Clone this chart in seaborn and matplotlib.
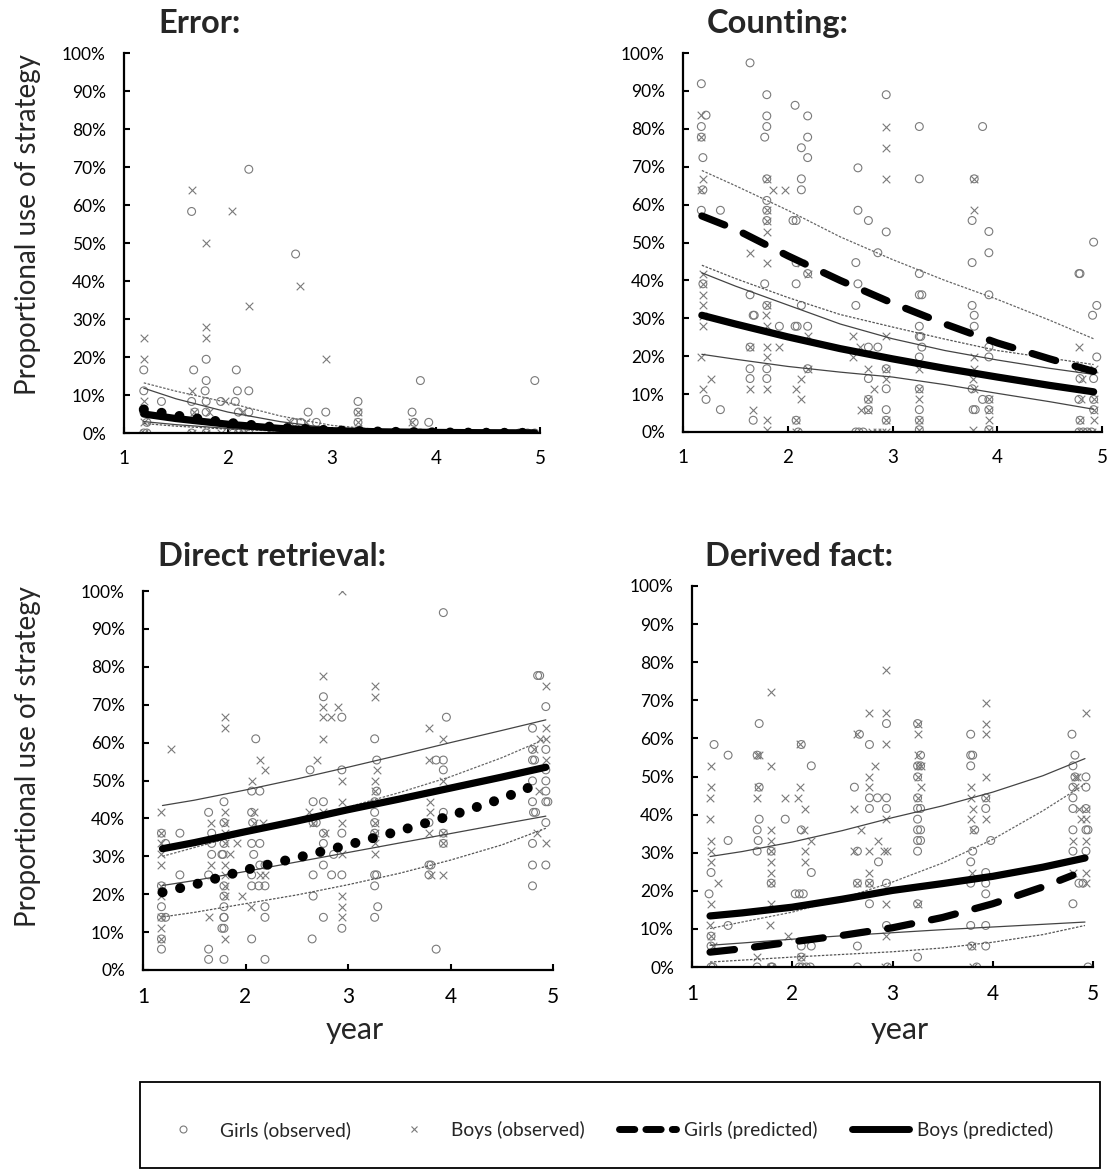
import numpy as np
import pandas as pd
import matplotlib
matplotlib.use("Agg")
import matplotlib.pyplot as plt
from matplotlib.lines import Line2D
from matplotlib.patches import Rectangle
import seaborn as sns

# ---------------- data (percent) ----------------
# Error
err_g_yr = [2.20, 1.65, 2.65, 1.79, 1.19, 1.67, 2.08, 1.79, 3.85, 4.95, 1.19, 1.78, 2.09, 2.20,
            1.36, 1.65, 1.79, 1.93, 2.07, 3.25, 1.19, 1.68, 1.79, 2.10, 2.20, 2.77, 2.94, 3.25, 3.77,
            1.22, 2.63, 2.70, 2.85, 3.25, 3.79, 3.93,
            1.19, 1.22, 1.65, 1.79, 2.05, 2.10, 2.20, 2.65, 2.75, 2.90, 3.25, 3.77, 3.85, 3.93, 4.80, 4.88, 4.95]
err_g_pct = [69.4, 58.3, 47.1, 19.4, 16.6, 16.6, 16.6, 13.8, 13.8, 13.8, 11.1, 11.1, 11.1, 11.1,
             8.3, 8.3, 8.3, 8.3, 8.3, 8.3, 5.5, 5.5, 5.5, 5.5, 5.5, 5.5, 5.5, 5.5, 5.5,
             2.8, 2.8, 2.8, 2.8, 2.8, 2.8, 2.8,
             0, 0, 0, 0, 0, 0, 0, 0, 0, 0, 0, 0, 0, 0, 0, 0, 0]
err_b_yr = [1.65, 2.04, 1.79, 2.69, 2.20, 1.79, 1.79, 1.19, 1.19, 2.94, 1.65, 1.19, 1.97,
            1.67, 1.82, 2.13, 3.25, 1.19, 2.60, 2.75, 3.25, 3.77,
            1.19, 1.65, 1.79, 1.93, 2.10, 2.15, 2.62, 2.70, 2.85, 3.25, 3.80, 3.90, 4.82, 4.90]
err_b_pct = [63.9, 58.3, 49.9, 38.8, 33.5, 27.8, 25.0, 25.0, 19.4, 19.4, 11.1, 8.3, 8.3,
             5.5, 5.5, 5.5, 5.5, 2.8, 2.8, 2.8, 2.8, 2.8,
             0, 0, 0, 0, 0, 0, 0, 0, 0, 0, 0, 0, 0, 0]
err_grid = [1.19, 1.5, 2.0, 2.5, 3.0, 3.5, 4.0, 4.5, 4.95]
err_g_pred = [6.2, 4.6, 2.7, 1.4, 0.7, 0.35, 0.15, 0.07, 0.03]
err_b_pred = [5.0, 3.8, 2.3, 1.2, 0.6, 0.3, 0.15, 0.07, 0.03]
err_g_hi = [13.2, 11.0, 8.0, 4.5, 2.0, 0.8, 0.3, 0.1, 0.05]
err_g_lo = [2.5, 1.8, 1.0, 0.5, 0.2, 0.1, 0.05, 0.02, 0.01]
err_b_hi = [11.8, 9.0, 5.5, 3.0, 1.2, 0.5, 0.2, 0.1, 0.05]
err_b_lo = [3.0, 2.2, 1.2, 0.6, 0.25, 0.1, 0.05, 0.02, 0.01]

# Counting
cnt_g_yr = [1.175, 1.22, 1.175, 1.175, 1.19, 1.19, 1.175, 1.357, 1.19, 1.22, 1.357,
            1.64, 1.64, 1.67, 1.64, 1.64, 1.64, 1.67,
            1.80, 1.80, 1.80, 1.78, 1.80, 1.80, 1.80, 1.80, 1.78, 1.80, 1.68, 1.80, 1.80,
            2.07, 2.19, 2.13, 2.19, 2.19, 2.13, 2.13, 2.05, 2.08, 2.08, 2.19, 2.08, 2.13,
            2.07, 2.09, 2.19, 1.92, 2.19, 2.08, 2.10,
            2.67, 2.67, 2.77, 2.94, 2.86, 2.65, 2.67, 2.65, 2.77, 2.86, 2.77, 2.77, 2.77,
            2.65, 2.68, 2.72, 2.94, 2.94, 2.94, 2.94, 2.94,
            3.256, 3.256, 3.256, 3.256, 3.28, 3.256, 3.256, 3.27, 3.28, 3.256, 3.256, 3.256, 3.256, 3.256,
            3.86, 3.78, 3.76, 3.92, 3.92, 3.76, 3.92, 3.76, 3.78, 3.78, 3.92, 3.92, 3.76, 3.86, 3.92,
            3.77, 3.79, 3.92, 3.92,
            4.92, 4.78, 4.79, 4.95, 4.91, 4.95, 4.78, 4.79, 4.92, 4.78, 4.92, 4.92, 4.79,
            4.78, 4.82, 4.86, 4.90]
cnt_g_pct = [91.9, 83.6, 80.6, 77.8, 72.4, 63.9, 58.5, 58.5, 39.1, 8.6, 5.9,
             97.4, 36.2, 30.8, 22.4, 16.7, 14.1, 3.1,
             89.0, 83.4, 80.6, 77.8, 66.8, 61.1, 58.5, 55.8, 39.1, 33.4, 30.8, 16.7, 14.1,
             86.2, 83.4, 75.0, 77.8, 72.4, 66.8, 63.9, 55.8, 55.8, 44.7, 41.8, 39.1, 33.4,
             27.9, 27.9, 27.9, 27.9, 16.7, 3.1, 0,
             69.7, 58.5, 55.8, 52.8, 47.3, 44.7, 39.1, 33.4, 22.4, 22.4, 14.1, 8.6, 5.9,
             0, 0, 0, 89.0, 16.7, 11.4, 5.9, 3.1,
             80.6, 66.8, 41.8, 36.2, 36.2, 27.9, 25.2, 25.2, 22.4, 19.8, 11.4, 5.9, 3.1, 0.6,
             80.6, 66.8, 55.8, 52.9, 47.3, 44.7, 36.2, 33.4, 30.8, 27.9, 22.4, 19.8, 11.4, 8.6, 8.6,
             5.9, 5.9, 5.9, 0.6,
             50.1, 41.8, 41.8, 33.4, 30.8, 19.8, 16.7, 14.1, 14.1, 8.6, 8.6, 5.9, 3.1,
             0, 0, 0, 0]
cnt_b_yr = [1.175, 1.175, 1.19, 1.175, 1.19, 1.19, 1.19, 1.19, 1.19, 1.19, 1.175, 1.27, 1.19,
            1.64, 1.64, 1.64, 1.67,
            1.80, 1.80, 1.80, 1.80, 1.80, 1.80, 1.79, 1.80, 1.80, 1.80, 1.80, 1.80, 1.80, 1.86, 1.97,
            2.13, 2.19, 2.19, 1.92, 2.19, 2.13, 2.08, 2.13, 2.08, 2.08,
            2.62, 2.62, 2.69, 2.77, 2.82, 2.77, 2.70, 2.77, 2.80, 2.85, 2.90,
            2.94, 2.94, 2.94, 2.94, 2.94, 2.94, 2.94, 2.94,
            3.256, 3.256, 3.256, 3.256, 3.256,
            3.78, 3.78, 3.78, 3.78, 3.77, 3.78, 3.92, 3.92, 3.92, 3.77, 3.92,
            4.78, 4.92, 4.81, 4.80, 4.92, 4.92, 4.79, 4.92, 4.80, 4.90]
cnt_b_pct = [83.6, 77.8, 66.8, 63.9, 41.8, 39.1, 36.2, 33.4, 30.6, 27.9, 19.8, 14.1, 11.4,
             47.3, 22.4, 11.4, 5.9,
             66.8, 58.5, 55.8, 52.8, 44.7, 33.4, 30.8, 27.9, 22.4, 19.8, 11.4, 3.1, 0.6, 63.9, 63.9,
             44.7, 41.8, 25.2, 22.4, 16.7, 14.1, 11.4, 8.6, 3.1, 0,
             25.2, 19.8, 22.4, 16.7, 11.4, 8.6, 5.9, 5.9, 0, 0, 0,
             80.6, 75.0, 66.8, 25.2, 16.7, 14.1, 3.1, 0,
             16.7, 11.4, 8.6, 3.1, 0.6,
             66.8, 58.5, 19.8, 16.7, 14.1, 11.4, 8.6, 5.9, 3.1, 0.6, 0.6,
             22.4, 16.7, 14.1, 8.6, 8.6, 5.9, 3.1, 3.1, 0, 0]
cnt_grid = [1.18, 1.5, 2.0, 2.5, 3.0, 3.5, 4.0, 4.5, 4.92]
cnt_g_pred = [57.0, 53.5, 46.5, 40.0, 34.0, 28.5, 23.5, 19.3, 16.0]
cnt_b_pred = [30.8, 28.5, 25.1, 22.0, 19.3, 16.8, 14.5, 12.3, 10.6]
cnt_g_hi = [69.0, 65.0, 58.5, 51.5, 45.5, 40.0, 35.0, 29.5, 24.6]
cnt_g_lo = [44.0, 40.5, 35.5, 31.0, 27.7, 24.5, 21.5, 19.5, 17.8]
cnt_b_hi = [42.0, 38.5, 33.5, 28.5, 24.6, 21.5, 19.0, 16.8, 15.2]
cnt_b_lo = [20.5, 19.2, 17.3, 15.8, 14.5, 12.5, 10.2, 8.0, 6.0]

# Direct retrieval
dr_g_yr = [1.18, 1.36, 1.22, 1.36, 1.18, 1.18, 1.18, 1.22, 1.18, 1.18,
           1.64, 1.67, 1.67, 1.67, 1.77, 1.64, 1.79, 1.64, 1.64, 1.79,
           1.79, 1.79, 1.79, 1.78, 1.79, 1.79, 1.79, 1.79, 1.79, 1.77,
           2.10, 2.06, 2.14, 2.06, 2.07, 2.06, 2.14, 2.08, 2.14, 2.19, 2.06, 2.06, 2.13, 2.19,
           2.19, 2.19, 2.06, 2.19,
           2.76, 2.94, 2.63, 2.94, 2.66, 2.76, 2.66, 2.69, 2.76, 2.94, 2.76, 2.86, 2.76, 2.66,
           2.84, 2.94, 2.66, 2.76, 2.94, 2.65,
           3.26, 3.28, 3.28, 3.26, 3.26, 3.26, 3.26, 3.26, 3.28, 3.26, 3.29, 3.26,
           3.96, 3.93, 3.86, 3.93, 3.93, 3.93, 3.79, 3.93, 3.93, 3.79, 3.81, 3.79, 3.86,
           4.85, 4.87, 4.93, 4.80, 4.93, 4.80, 4.80, 4.82, 4.93, 4.80, 4.93, 4.93, 4.80, 4.93,
           4.95, 4.81, 4.83, 4.93, 4.80, 4.80, 4.93, 4.80]
dr_g_pct = [36.1, 36.1, 33.4, 25.1, 22.2, 16.7, 13.9, 13.9, 8.2, 5.5,
            41.6, 36.1, 33.4, 30.5, 30.5, 25.1, 13.9, 5.5, 2.8, 2.8,
            44.4, 38.9, 33.4, 30.5, 22.2, 19.5, 16.7, 13.9, 11.0, 11.0,
            61.0, 47.2, 47.2, 41.6, 38.9, 33.4, 33.4, 30.5, 27.7, 27.7, 25.1, 22.2, 22.2, 22.2,
            16.7, 13.9, 8.2, 2.8,
            72.1, 66.7, 52.8, 52.8, 44.4, 44.4, 38.9, 38.9, 36.1, 36.1, 33.4, 30.5, 27.7, 25.1,
            25.1, 25.1, 19.5, 13.9, 11.0, 8.2,
            61.0, 55.4, 47.2, 44.4, 41.6, 38.9, 36.1, 25.1, 25.1, 22.2, 16.7, 13.9,
            66.7, 94.3, 55.4, 55.4, 52.8, 41.6, 38.9, 36.1, 33.4, 27.7, 27.7, 25.1, 5.5,
            77.7, 77.7, 69.5, 63.8, 58.2, 58.2, 55.4, 55.4, 52.8, 49.9, 49.9, 47.2, 44.4, 44.4,
            44.4, 41.6, 41.6, 38.9, 33.4, 27.7, 27.7, 22.2]
dr_b_yr = [1.18, 1.18, 1.18, 1.18, 1.18, 1.18, 1.18, 1.18, 1.18, 1.18, 1.27,
           1.66, 1.66, 1.64,
           1.80, 1.80, 1.80, 1.80, 1.80, 1.80, 1.92, 1.80, 1.80, 1.80, 1.80, 1.97, 1.80, 1.85,
           2.14, 2.19, 2.06, 2.08, 2.08, 2.17, 2.14, 2.19, 2.05,
           2.94, 2.76, 2.76, 2.90, 2.76, 2.83, 2.76, 2.70, 2.94, 2.94, 2.62, 2.76, 2.94, 2.66,
           2.78, 2.94, 2.94, 2.94, 2.94,
           3.26, 3.26, 3.28, 3.26, 3.26, 3.26, 3.26, 3.26, 3.26,
           3.79, 3.93, 3.79, 3.93, 3.80, 3.80, 3.79, 3.93, 3.93, 3.81, 3.93,
           4.93, 4.93, 4.87, 4.93, 4.81, 4.93, 4.86, 4.84, 4.93]
dr_b_pct = [41.6, 36.1, 33.4, 30.5, 27.7, 22.2, 19.5, 13.9, 11.0, 8.2, 58.2,
            38.9, 27.7, 13.9,
            66.7, 63.8, 41.6, 38.9, 36.1, 33.4, 33.4, 27.7, 25.1, 22.2, 19.5, 19.5, 8.2, 30.5,
            55.4, 52.8, 49.9, 41.6, 38.9, 38.9, 25.1, 25.1, 16.7,
            100.0, 77.7, 69.5, 69.5, 66.7, 66.7, 61.0, 55.4, 49.9, 44.4, 41.6, 41.6, 38.9, 38.9,
            36.1, 30.5, 19.5, 16.7, 13.9,
            74.9, 72.1, 52.8, 49.9, 47.2, 38.9, 36.1, 33.4, 30.5,
            63.8, 61.0, 55.4, 49.9, 44.4, 41.6, 36.1, 36.1, 33.4, 25.1, 25.1,
            74.9, 63.8, 61.0, 61.0, 58.2, 55.4, 47.2, 36.1, 33.4]
dr_grid = [1.19, 1.5, 2.0, 2.5, 3.0, 3.5, 4.0, 4.5, 4.93]
dr_g_grid = [1.19, 1.5, 2.0, 2.5, 3.0, 3.5, 4.0, 4.5, 4.77]
dr_g_pred = [20.5, 22.5, 26.4, 29.6, 33.0, 36.7, 40.7, 45.2, 48.2]
dr_b_pred = [32.0, 33.6, 36.5, 39.3, 42.3, 45.1, 48.0, 50.9, 53.5]
dr_g_hi = [30.0, 32.3, 36.0, 39.4, 43.0, 46.8, 51.0, 56.0, 61.0]
dr_g_lo = [14.0, 15.2, 17.5, 19.8, 22.5, 25.5, 29.0, 33.0, 37.4]
dr_b_hi = [43.4, 44.8, 47.5, 50.4, 53.5, 56.7, 60.0, 63.2, 66.0]
dr_b_lo = [22.3, 23.6, 26.0, 28.5, 31.0, 33.5, 36.0, 38.5, 40.6]

# Derived fact
df_g_yr = [1.22, 1.36, 1.36, 1.19, 1.17, 1.36, 1.19, 1.19, 1.19, 1.21,
           1.67, 1.65, 1.67, 1.67, 1.65, 1.66, 1.65, 1.79, 1.79, 1.65, 1.79, 1.80, 1.93,
           2.09, 2.19, 2.09, 2.19, 2.03, 2.07, 2.11, 2.09, 2.19, 2.09, 2.07, 2.10, 2.14, 2.18,
           2.94, 2.67, 2.77, 2.62, 2.77, 2.85, 2.94, 2.77, 2.94, 2.65, 2.86, 2.65, 2.77, 2.94,
           2.77, 2.94, 2.65, 2.65, 2.95,
           3.25, 3.28, 3.25, 3.28, 3.25, 3.25, 3.25, 3.28, 3.25, 3.25, 3.28, 3.25, 3.28, 3.25,
           3.25, 3.25,
           3.78, 3.78, 3.80, 3.78, 3.93, 3.93, 3.82, 3.98, 3.80, 3.78, 3.93, 3.78, 3.93, 3.93,
           3.78, 3.93, 3.79, 3.93, 3.84,
           4.79, 4.82, 4.80, 4.82, 4.93, 4.80, 4.93, 4.80, 4.80, 4.93, 4.80, 4.93, 4.95, 4.80,
           4.93, 4.86, 4.90, 4.80, 4.95]
df_g_pct = [58.4, 55.6, 33.2, 24.8, 19.2, 10.9, 8.1, 5.5, 0, 0,
            63.9, 55.6, 47.2, 38.8, 36.0, 33.2, 30.4, 30.4, 22.0, 0, 0, 0, 38.8,
            58.4, 52.8, 36.0, 24.8, 19.2, 19.2, 19.2, 5.5, 5.5, 2.6, 0, 0, 0, 0,
            63.9, 61.1, 58.4, 47.2, 44.4, 44.4, 44.4, 41.6, 41.6, 30.4, 27.6, 22.0, 22.0, 22.0,
            16.6, 10.9, 5.5, 0, 0,
            63.9, 55.6, 52.8, 52.8, 49.9, 44.4, 41.6, 41.6, 38.8, 36.0, 36.0, 33.2, 33.2, 30.4,
            16.6, 2.6,
            61.1, 55.6, 55.6, 52.8, 44.4, 41.6, 36.0, 33.2, 30.4, 27.6, 24.8, 22.0, 22.0, 19.2,
            10.9, 10.9, 5.5, 5.5, 0,
            61.1, 55.6, 52.8, 49.9, 49.9, 47.2, 47.2, 44.4, 41.6, 41.6, 36.0, 36.0, 36.0, 30.4,
            30.4, 22.0, 22.0, 16.6, 0]
df_b_yr = [1.19, 1.19, 1.18, 1.18, 1.19, 1.19, 1.19, 1.19, 1.18, 1.19, 1.21, 1.26,
           1.65, 1.67, 1.79, 1.79, 1.66, 1.65, 1.79, 1.79, 1.79, 1.79, 1.79, 1.79, 1.79, 1.78,
           1.65, 1.96, 1.93, 1.79,
           2.08, 2.08, 2.06, 2.13, 2.12, 2.19, 2.13, 2.13, 2.09,
           2.94, 2.77, 2.94, 2.65, 2.94, 2.83, 2.77, 2.77, 2.62, 2.94, 2.69, 2.86, 2.62, 2.77,
           2.92, 2.95, 2.77, 2.65, 2.77, 2.94, 2.94, 2.93,
           3.25, 3.25, 3.25, 3.25, 3.28, 3.25, 3.28, 3.25, 3.25,
           3.93, 3.93, 3.93, 3.93, 3.78, 3.78, 3.93, 3.80, 3.78, 3.93, 3.80, 3.79, 3.79, 3.80,
           4.93, 4.82, 4.84, 4.82, 4.86, 4.93, 4.88, 4.93, 4.80, 4.93, 4.80, 4.93, 4.93]
df_b_pct = [52.8, 47.2, 44.4, 38.8, 33.2, 30.4, 27.6, 16.6, 10.9, 8.1, 5.5, 22.0,
            55.6, 55.6, 72.2, 52.8, 47.2, 44.4, 36.0, 33.2, 30.4, 27.6, 24.8, 22.0, 16.6, 10.9,
            2.6, 8.1, 44.4, 0,
            58.4, 47.2, 44.4, 41.6, 36.0, 33.2, 30.4, 27.6, 2.6,
            77.9, 66.7, 66.7, 61.1, 58.4, 52.8, 49.9, 47.2, 41.6, 38.8, 36.0, 33.2, 30.4, 30.4,
            30.4, 30.4, 24.8, 22.0, 22.0, 16.6, 8.1, 0,
            63.9, 61.1, 55.6, 52.8, 52.8, 49.9, 47.2, 44.4, 16.6,
            69.4, 63.9, 61.1, 49.9, 47.2, 44.4, 44.4, 41.6, 38.8, 38.8, 36.0, 24.8, 5.5, 0,
            66.7, 49.9, 49.9, 47.2, 41.6, 41.6, 38.8, 38.8, 33.2, 33.2, 24.8, 24.8, 22.0]
df_grid = [1.18, 1.5, 2.0, 2.5, 3.0, 3.5, 4.0, 4.5, 4.92]
df_g_grid = [1.18, 1.5, 2.0, 2.5, 3.0, 3.5, 4.0, 4.5, 4.80]
df_g_pred = [3.9, 4.8, 6.6, 8.3, 10.3, 13.0, 16.6, 21.0, 24.1]
df_b_pred = [13.4, 14.2, 15.7, 17.8, 20.1, 21.9, 23.8, 26.2, 28.6]
df_g_hi = [10.1, 11.8, 14.4, 18.0, 22.3, 27.3, 33.5, 41.0, 48.0]
df_g_lo = [1.3, 1.8, 2.6, 3.3, 4.0, 5.0, 6.5, 8.5, 10.9]
df_b_hi = [29.0, 30.3, 32.8, 35.8, 39.2, 42.3, 45.9, 50.2, 54.7]
df_b_lo = [5.7, 6.3, 7.3, 8.2, 9.0, 9.8, 10.5, 11.2, 11.8]

titles = ["Error:", "Counting:", "Direct retrieval:", "Derived fact:"]
legend_labels = ["Girls (observed)", "Boys (observed)", "Girls (predicted)", "Boys (predicted)"]

# ---------------- style ----------------
sns.set_style("ticks")
plt.rcParams['font.family'] = ['Lato', 'DejaVu Sans']
GRAY = '#7a7a7a'
DASH = (0, (3.4, 2.8))
DOTS = (0, (0.01, 1.8))

W, H = 1108, 1176
fig = plt.figure(figsize=(W / 100, H / 100), dpi=100)


def px_axes(x0, x1, y_top, y_bot):
    return fig.add_axes([x0 / W, 1 - y_bot / H, (x1 - x0) / W, (y_bot - y_top) / H])


def draw(ax, g_yr, g_pct, b_yr, b_pct, grid, g_grid, g_pred, b_pred, g_hi, g_lo, b_hi, b_lo,
         girls_ls, xfs, xpad):
    girls = pd.DataFrame({'year': g_yr, 'p': np.array(g_pct) / 100})
    boys = pd.DataFrame({'year': b_yr, 'p': np.array(b_pct) / 100})
    sns.scatterplot(data=girls, x='year', y='p', ax=ax, marker='o', s=32, color=GRAY,
                    facecolor='none', edgecolor=GRAY, linewidth=0.8, zorder=2, legend=False)
    sns.scatterplot(data=boys, x='year', y='p', ax=ax, marker='x', s=30, color=GRAY,
                    linewidth=0.8, zorder=2, legend=False)
    # confidence bands (thin)
    sns.lineplot(x=grid, y=np.array(g_hi) / 100, ax=ax, color='#666666', lw=0.9,
                 linestyle=(0, (2, 1.2)), estimator=None, sort=False, zorder=3)
    sns.lineplot(x=grid, y=np.array(g_lo) / 100, ax=ax, color='#555555', lw=0.9,
                 linestyle=(0, (2, 1.2)), estimator=None, sort=False, zorder=3)
    sns.lineplot(x=grid, y=np.array(b_hi) / 100, ax=ax, color='#444444', lw=0.9,
                 estimator=None, sort=False, zorder=3)
    sns.lineplot(x=grid, y=np.array(b_lo) / 100, ax=ax, color='#444444', lw=0.9,
                 estimator=None, sort=False, zorder=3)
    # predictions (thick)
    if girls_ls == 'dots':
        sns.lineplot(x=g_grid, y=np.array(g_pred) / 100, ax=ax, color='black', lw=7.2,
                     linestyle=DOTS, dash_capstyle='round', estimator=None, sort=False, zorder=4)
    else:
        sns.lineplot(x=g_grid, y=np.array(g_pred) / 100, ax=ax, color='black', lw=5.2,
                     linestyle=DASH, dash_capstyle='round', estimator=None, sort=False, zorder=4)
    sns.lineplot(x=grid, y=np.array(b_pred) / 100, ax=ax, color='black', lw=5.2,
                 solid_capstyle='round', estimator=None, sort=False, zorder=4)

    ax.set_xlim(1, 5)
    ax.set_ylim(0, 1)
    ax.set_xticks([1, 2, 3, 4, 5])
    ax.set_yticks(np.arange(0, 1.01, 0.1))
    ax.set_yticklabels([f"{int(round(v * 100))}%" for v in np.arange(0, 1.01, 0.1)])
    ax.tick_params(axis='y', direction='in', length=4, width=1.5, labelsize=12.5, pad=13,
                   colors='black')
    ax.tick_params(axis='x', direction='in', length=4, width=1.5, labelsize=xfs, pad=xpad,
                   colors='black')
    ax.set_xlabel('')
    ax.set_ylabel('')
    sns.despine(ax=ax)
    for sp in ['left', 'bottom']:
        ax.spines[sp].set_linewidth(1.6)
        ax.spines[sp].set_color('black')
    ax.patch.set_alpha(0)


ax1 = px_axes(124, 540, 53, 433)
draw(ax1, err_g_yr, err_g_pct, err_b_yr, err_b_pct, err_grid, err_grid,
     err_g_pred, err_b_pred, err_g_hi, err_g_lo, err_b_hi, err_b_lo, 'dots', 13.5, 12)
ax2 = px_axes(683, 1102, 53, 432)
draw(ax2, cnt_g_yr, cnt_g_pct, cnt_b_yr, cnt_b_pct, cnt_grid, cnt_grid,
     cnt_g_pred, cnt_b_pred, cnt_g_hi, cnt_g_lo, cnt_b_hi, cnt_b_lo, 'dash', 13.5, 12)
ax3 = px_axes(143, 553, 591, 970)
draw(ax3, dr_g_yr, dr_g_pct, dr_b_yr, dr_b_pct, dr_grid, dr_g_grid,
     dr_g_pred, dr_b_pred, dr_g_hi, dr_g_lo, dr_b_hi, dr_b_lo, 'dots', 15, 12)
ax4 = px_axes(692, 1093, 586, 967)
draw(ax4, df_g_yr, df_g_pct, df_b_yr, df_b_pct, df_grid, df_g_grid,
     df_g_pred, df_b_pred, df_g_hi, df_g_lo, df_b_hi, df_b_lo, 'dash', 15, 12)

# titles
for (tx, ty), t in zip([(158, 33), (707, 33), (158, 566), (705, 566)], titles):
    fig.text(tx / W, 1 - ty / H, t, fontsize=23.5, fontweight='bold', ha='left', va='baseline')

# axis labels
for cy in [225, 757]:
    fig.text(28 / W, 1 - cy / H, "Proportional use of strategy", rotation=90, fontsize=20,
             ha='center', va='center')
for cx in [355, 900]:
    fig.text(cx / W, 1 - 1030 / H, "year", fontsize=22, ha='center', va='center')

# legend box
fig.add_artist(Rectangle((140 / W, 1 - 1168 / H), 960 / W, 86 / H, transform=fig.transFigure,
                         fill=False, edgecolor='black', linewidth=1.3))
handles = [
    Line2D([], [], marker='o', ls='', mfc='none', mec=GRAY, ms=5, mew=0.8),
    Line2D([], [], marker='x', ls='', color=GRAY, ms=5, mew=0.8),
    Line2D([], [], color='black', lw=5, linestyle=(0, (2.2, 1.6)), dash_capstyle='round'),
    Line2D([], [], color='black', lw=5, solid_capstyle='round'),
]
fig.legend(handles, legend_labels, ncol=4, loc='center', bbox_to_anchor=(604 / W, 1 - 1130 / H),
           frameon=False, fontsize=13.8, handlelength=3.0, handletextpad=0.4, columnspacing=1.8)

fig.savefig('out.png', dpi=100)
